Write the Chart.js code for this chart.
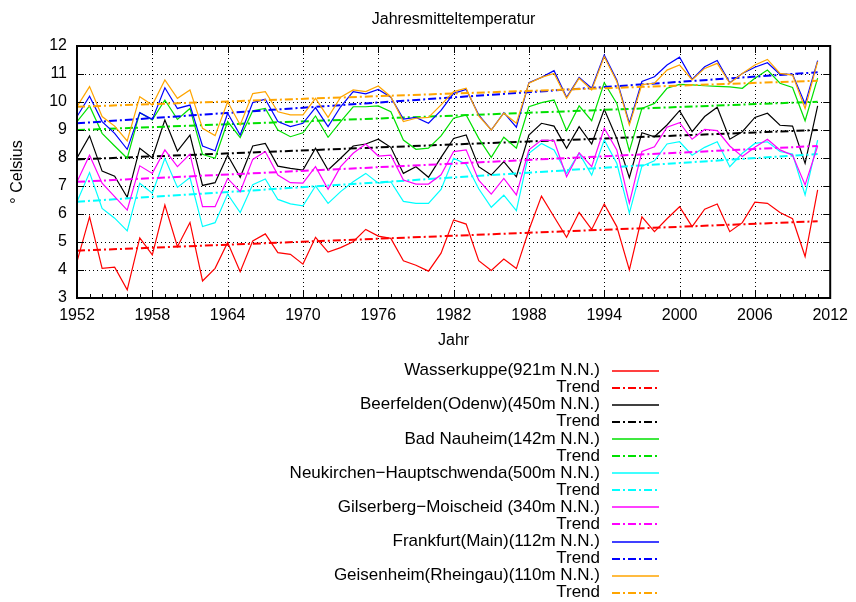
<!DOCTYPE html>
<html>
<head>
<meta charset="utf-8">
<script src="https://cdn.jsdelivr.net/npm/chart.js@4.4.0/dist/chart.umd.min.js"></script>
<style>
  html, body { margin: 0; padding: 0; background: #fff; }
  canvas { display: block; }
</style>
</head>
<body>
<canvas id="chart" width="856" height="602"></canvas>
<script>
// Jahre 1952..2011 (x-Achse)
const years = Array.from({ length: 60 }, (_, i) => 1952 + i);
const xTicks = [1952, 1958, 1964, 1970, 1976, 1982, 1988, 1994, 2000, 2006, 2012];
const yTicks = [3, 4, 5, 6, 7, 8, 9, 10, 11, 12];

const stations = [
    'Wasserkuppe(921m N.N.)',
    'Beerfelden(Odenw)(450m N.N.)',
    'Bad Nauheim(142m N.N.)',
    'Neukirchen\u2212Hauptschwenda(500m N.N.)',
    'Gilserberg\u2212Moischeid (340m N.N.)',
    'Frankfurt(Main)(112m N.N.)',
    'Geisenheim(Rheingau)(110m N.N.)'
];
const colors = ['#ff0000', '#000000', '#00e000', '#00ffff', '#ff00ff', '#0000ff', '#ffa500'];

const wasserkuppe = [
    4.30, 5.90, 4.06, 4.10, 3.29, 5.15, 4.54, 6.32, 4.83, 5.70,
    3.61, 4.06, 4.98, 3.94, 5.04, 5.29, 4.62, 4.56, 4.21, 5.17,
    4.64, 4.80, 5.01, 5.45, 5.21, 5.13, 4.33, 4.17, 3.96, 4.60,
    5.79, 5.64, 4.33, 3.98, 4.39, 4.05, 5.43, 6.64, 5.90, 5.17,
    6.06, 5.45, 6.36, 5.55, 4.00, 5.90, 5.37, 5.83, 6.26, 5.55,
    6.17, 6.36, 5.37, 5.69, 6.42, 6.38, 6.05, 5.83, 4.48, 6.86
];
const beerfelden = [
    8.00, 8.79, 7.53, 7.35, 6.60, 8.35, 8.00, 9.36, 8.25, 8.82,
    7.02, 7.12, 8.10, 7.31, 8.43, 8.52, 7.71, 7.63, 7.57, 8.35,
    7.57, 7.99, 8.43, 8.50, 8.67, 8.38, 7.45, 7.69, 7.31, 8.02,
    8.70, 8.82, 7.69, 7.39, 7.87, 7.33, 8.82, 9.24, 9.14, 8.35,
    9.12, 8.50, 9.74, 8.70, 7.30, 8.90, 8.76, 9.18, 9.69, 8.94,
    9.48, 9.81, 8.67, 8.94, 9.45, 9.60, 9.17, 9.14, 7.81, 9.86
];
const badNauheim = [
    9.30, 9.86, 8.88, 8.43, 7.99, 9.62, 9.36, 10.07, 9.38, 9.77,
    8.13, 7.99, 9.30, 8.73, 9.69, 9.77, 9.00, 8.76, 8.90, 9.50,
    8.74, 9.30, 9.83, 9.83, 9.86, 9.65, 8.64, 8.31, 8.35, 8.79,
    9.42, 9.54, 8.70, 8.02, 8.74, 8.35, 9.83, 9.98, 10.07, 8.98,
    9.86, 9.33, 10.69, 9.95, 8.25, 9.77, 9.95, 10.49, 10.63, 10.61,
    10.58, 10.56, 10.54, 10.49, 10.85, 11.14, 10.67, 10.52, 9.33, 10.85
];
const neukirchen = [
    6.44, 7.48, 6.20, 5.85, 5.40, 7.10, 6.74, 7.99, 6.95, 7.30,
    5.55, 5.69, 6.71, 6.05, 7.05, 7.25, 6.52, 6.36, 6.29, 7.00,
    6.38, 6.80, 7.15, 7.45, 7.10, 7.15, 6.45, 6.38, 6.38, 6.88,
    7.99, 7.78, 6.90, 6.24, 6.67, 6.12, 8.17, 8.52, 8.29, 7.45,
    8.17, 7.39, 8.64, 7.81, 6.03, 7.71, 7.90, 8.50, 8.58, 8.10,
    8.38, 8.58, 7.69, 8.17, 8.52, 8.58, 8.23, 8.14, 6.68, 8.64
];
const gilserberg = [
    7.15, 8.10, 7.10, 6.62, 6.14, 7.72, 7.45, 8.29, 7.69, 8.14,
    6.26, 6.26, 7.27, 6.80, 7.95, 8.23, 7.39, 7.12, 7.10, 7.69,
    6.88, 7.69, 8.17, 8.50, 8.07, 8.10, 7.21, 7.07, 7.07, 7.40,
    8.23, 8.29, 7.21, 6.71, 7.27, 6.68, 8.29, 8.64, 8.62, 7.33,
    8.19, 7.69, 9.06, 8.29, 6.39, 8.23, 8.40, 9.10, 9.26, 8.67,
    9.02, 8.98, 8.43, 8.05, 8.38, 8.67, 8.29, 8.10, 7.04, 8.43
];
const frankfurt = [
    9.48, 10.21, 9.30, 8.88, 8.31, 9.62, 9.38, 10.51, 9.77, 9.89,
    8.43, 8.26, 9.60, 8.82, 9.98, 10.10, 9.30, 9.12, 9.24, 9.80,
    9.12, 9.83, 10.37, 10.29, 10.45, 10.17, 9.39, 9.45, 9.24, 9.70,
    10.31, 10.45, 9.54, 9.00, 9.62, 9.10, 10.69, 10.88, 11.12, 10.17,
    10.88, 10.49, 11.68, 10.79, 9.24, 10.73, 10.90, 11.32, 11.60, 10.81,
    11.26, 11.48, 10.69, 11.02, 11.24, 11.40, 10.99, 10.99, 9.93, 11.48
];
const geisenheim = [
    9.83, 10.55, 9.48, 9.14, 8.61, 10.19, 9.89, 10.79, 10.13, 10.43,
    9.06, 8.80, 10.01, 9.18, 10.30, 10.37, 9.65, 9.54, 9.54, 10.13,
    9.45, 10.17, 10.43, 10.37, 10.57, 10.19, 9.30, 9.42, 9.45, 9.90,
    10.37, 10.49, 9.50, 9.00, 9.60, 9.24, 10.67, 10.88, 11.02, 10.13,
    10.85, 10.43, 11.62, 10.73, 9.18, 10.62, 10.67, 11.14, 11.32, 10.79,
    11.20, 11.38, 10.67, 11.02, 11.32, 11.52, 11.02, 10.96, 9.77, 11.44
];
const series = [wasserkuppe, beerfelden, badNauheim, neukirchen, gilserberg, frankfurt, geisenheim];

// Trendgeraden: Werte am Anfang (1952) und Ende (2011)
const trendYears = [1952, 2011];
const trendStart = [4.69, 7.95, 9.00, 6.44, 7.15, 9.24, 9.83];
const trendEnd = [5.74, 9.00, 10.01, 8.14, 8.43, 11.06, 10.76];

const FONT = '"Liberation Sans", Arial, sans-serif';

const datasets = [];
stations.forEach((name, i) => {
    datasets.push({
        label: name,
        data: years.map((yr, k) => ({ x: yr, y: series[i][k] })),
        borderColor: colors[i],
        borderWidth: 1.2,
        pointRadius: 0,
        tension: 0
    });
    datasets.push({
        label: 'Trend',
        data: trendYears.map((yr, k) => ({ x: yr, y: k === 0 ? trendStart[i] : trendEnd[i] })),
        borderColor: colors[i],
        borderWidth: 2,
        borderDash: [8, 3, 2, 3],
        pointRadius: 0,
        tension: 0
    });
});
datasets.forEach((d, i) => { d.order = -i; });

// Rahmen, Gitter, Ticks, Titel und Legende im gnuplot-Stil
const gnuplotFrame = {
    id: 'gnuplotFrame',
    beforeDatasetsDraw(chart) {
        const { ctx, chartArea: a, scales: { x, y } } = chart;
        ctx.save();
        ctx.strokeStyle = '#000';
        ctx.lineWidth = 1;
        ctx.setLineDash([1, 3]);
        ctx.beginPath();
        xTicks.slice(1, -1).forEach(v => {
            const px = Math.round(x.getPixelForValue(v)) + 0.5;
            ctx.moveTo(px, a.top);
            ctx.lineTo(px, a.bottom);
        });
        yTicks.slice(1, -1).forEach(v => {
            const py = Math.round(y.getPixelForValue(v)) + 0.5;
            ctx.moveTo(a.left, py);
            ctx.lineTo(a.right, py);
        });
        ctx.stroke();
        ctx.restore();
    },
    afterDatasetsDraw(chart) {
        const { ctx, chartArea: a, scales: { x, y } } = chart;
        ctx.save();
        ctx.strokeStyle = '#000';
        ctx.setLineDash([]);

        // Ticks nach innen, auch gespiegelt
        ctx.lineWidth = 1;
        ctx.beginPath();
        for (let yr = 1952; yr <= 2012; yr++) {
            const px = Math.round(x.getPixelForValue(yr)) + 0.5;
            const len = xTicks.includes(yr) ? 7 : 4;
            ctx.moveTo(px, a.bottom); ctx.lineTo(px, a.bottom - len);
            ctx.moveTo(px, a.top); ctx.lineTo(px, a.top + len);
        }
        yTicks.forEach(v => {
            const py = Math.round(y.getPixelForValue(v)) + 0.5;
            ctx.moveTo(a.left, py); ctx.lineTo(a.left + 7, py);
            ctx.moveTo(a.right, py); ctx.lineTo(a.right - 7, py);
        });
        ctx.stroke();

        ctx.lineWidth = 2;
        ctx.strokeRect(a.left, a.top, a.right - a.left, a.bottom - a.top);

        // Titel und Achsenbeschriftungen
        ctx.fillStyle = '#000';
        ctx.font = '16px ' + FONT;
        ctx.textAlign = 'center';
        ctx.textBaseline = 'middle';
        const cx = (a.left + a.right) / 2;
        ctx.fillText('Jahresmitteltemperatur', cx, 20);
        ctx.fillText('Jahr', cx, 341);
        ctx.save();
        ctx.translate(18, (a.top + a.bottom) / 2);
        ctx.rotate(-Math.PI / 2);
        ctx.fillText('\u00b0 Celsius', 0, 0);
        ctx.restore();

        // Legende unten
        ctx.font = '17px ' + FONT;
        ctx.textAlign = 'right';
        chart.data.datasets.forEach((d, i) => {
            const ly = 370.5 + i * 17.1;
            ctx.fillStyle = '#000';
            ctx.fillText(d.label, 600, ly);
            ctx.strokeStyle = d.borderColor;
            ctx.lineWidth = Math.max(1.5, d.borderWidth);
            ctx.setLineDash(d.borderDash || []);
            ctx.beginPath();
            ctx.moveTo(612, Math.round(ly));
            ctx.lineTo(659, Math.round(ly));
            ctx.stroke();
        });
        ctx.restore();
    }
};

new Chart(document.getElementById('chart'), {
    type: 'line',
    data: { datasets: datasets },
    options: {
        responsive: false,
        animation: false,
        layout: { padding: { left: 0, right: 23, top: 46, bottom: 264 } },
        plugins: { legend: { display: false }, tooltip: { enabled: false }, title: { display: false } },
        scales: {
            x: {
                type: 'linear',
                min: 1952,
                max: 2012,
                afterFit: s => { s.height = 40; },
                afterBuildTicks: s => { s.ticks = xTicks.map(v => ({ value: v })); },
                grid: { display: false, drawTicks: false },
                border: { display: false },
                ticks: {
                    autoSkip: false, maxRotation: 0, padding: 8, color: '#000',
                    font: { family: FONT, size: 16 },
                    callback: v => String(v)
                }
            },
            y: {
                min: 3,
                max: 12,
                afterFit: s => { s.width = 77; },
                afterBuildTicks: s => { s.ticks = yTicks.map(v => ({ value: v })); },
                grid: { display: false, drawTicks: false },
                border: { display: false },
                ticks: {
                    padding: 10, color: '#000',
                    font: { family: FONT, size: 16 },
                    callback: v => String(v)
                }
            }
        }
    },
    plugins: [gnuplotFrame]
});
</script>
</body>
</html>
